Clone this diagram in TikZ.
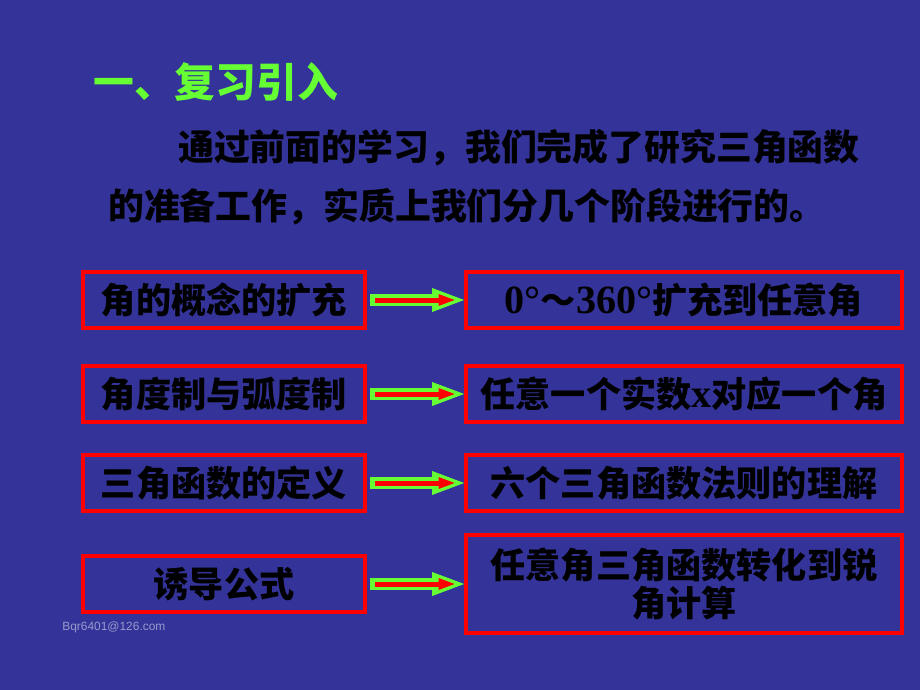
\documentclass[tikz,border=0pt]{standalone}
\usepackage{fontspec}
\usepackage{tikz}
\usetikzlibrary{arrows.meta}
\newfontfamily\cjk{Noto Sans CJK SC}
\newfontfamily\lat{Liberation Serif}[BoldFont = * Bold]
\newfontfamily\wmark{Liberation Sans}
\definecolor{mblue}{rgb}{0.2, 0.2, 0.6}
\definecolor{mred}{rgb}{1, 0, 0}
\definecolor{mgreen}{rgb}{0.4, 1, 0.2}
\definecolor{mgrey}{rgb}{0.6, 0.6, 0.8}
\tikzset{box/.style = {draw = mred, line width = 0.1cm, fill = mblue, inner sep = 0, minimum height = 1.4cm, align = center, font = \cjk\bfseries\fontsize{25}{26.5}\selectfont}}
\tikzset{lbox/.style = {box, minimum width = 7.04cm}}
\tikzset{rbox/.style = {box, minimum width = 10.89cm}}
\tikzset{txt/.style = {anchor = west, inner sep = 0, font = \cjk\bfseries\fontsize{25.5}{30}\selectfont}}
\tikzset{garrow/.style = {mgreen, line width = 0.3cm, shorten <= 0.075cm, -{Triangle[length = 0.8cm, width = 0.6cm, line width = 0pt]}}}
\tikzset{rarrow/.style = {mred, line width = 0.125cm, shorten <= 0.2cm, shorten >= 0.24cm, -{Triangle[length = 0.4cm, width = 0.3cm, line width = 0pt]}}}
\newcommand\latin[1]{{\lat\bfseries\fontsize{28.5}{30}\selectfont #1}}

\begin{document}
\begin{tikzpicture}[x = 0.025cm, y = -0.025cm]
      \fill [mblue] (0, 0) rectangle (920, 690);
      \useasboundingbox (0, 0) rectangle (920, 690);

      \node [txt, mgreen, font = \cjk\bfseries\fontsize{29}{34}\selectfont] (title) at (93, 82) {一、复习引入};
      \node [txt] (line1) at (178, 148) {通过前面的学习，我们完成了研究三角函数};
      \node [txt] (line2) at (108, 207) {的准备工作，实质上我们分几个阶段进行的。};

      \node [lbox] (l1) at (224, 300) {角的概念的扩充};
      \node [lbox] (l2) at (224, 394) {角度制与弧度制};
      \node [lbox] (l3) at (224, 483) {三角函数的定义};
      \node [lbox] (l4) at (224, 584) {诱导公式};

      \node [rbox] (r1) at (684, 300) {\latin{0°}～\latin{360°}扩充到任意角};
      \node [rbox] (r2) at (684, 394) {任意一个实数\latin{x}对应一个角};
      \node [rbox] (r3) at (684, 483) {六个三角函数法则的理解};
      \node [rbox, minimum height = 2.45cm] (r4) at (684, 584) {任意角三角函数转化到锐\\角计算};

      \foreach \i in {1, ..., 4} {
        \draw [garrow] (l\i.east) -- (r\i.west);
        \draw [rarrow] (l\i.east) -- (r\i.west);
      }

      \node [anchor = west, inner sep = 0, mgrey, font = \wmark\fontsize{8.5}{10}\selectfont] (mail) at (62, 627) {Bqr6401@126.com};
    \end{tikzpicture}
\end{document}
